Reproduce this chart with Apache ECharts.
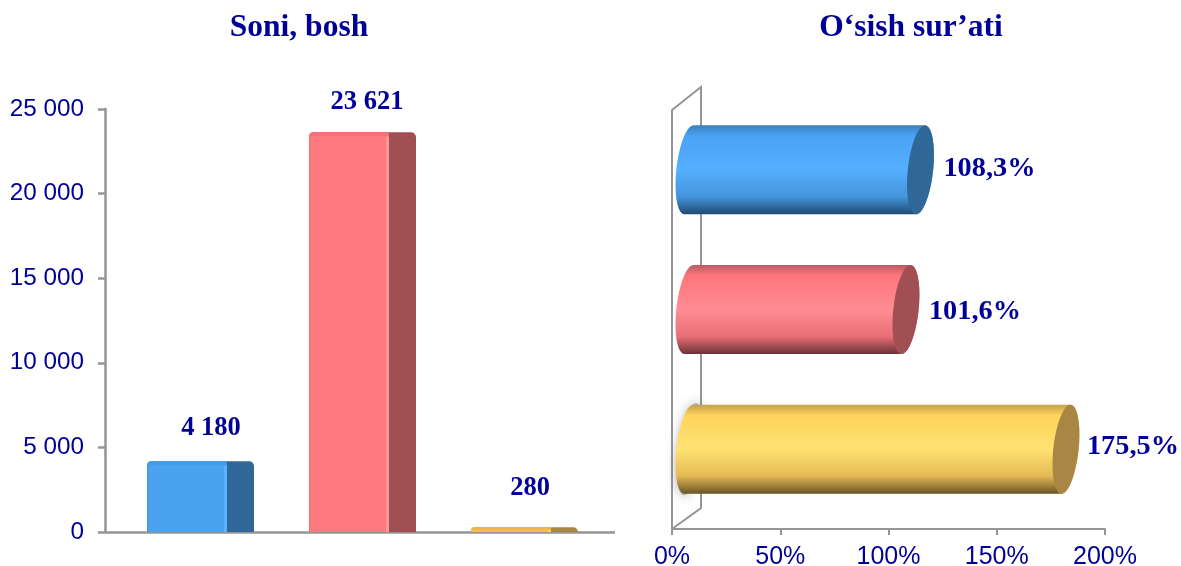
<!DOCTYPE html>
<html>
<head>
<meta charset="utf-8">
<style>html,body{margin:0;padding:0;background:#fff}#c{width:1181px;height:566px}</style>
<script src="https://cdn.jsdelivr.net/npm/echarts@6/dist/echarts.min.js"></script>
</head>
<body>
<div id="c"></div>
<script>
const categories = ['1', '2', '3'];
const headCounts = [4180, 23621, 280];
const growthRates = [108.3, 101.6, 175.5];
const titles = ['Soni, bosh', 'O‘sish sur’ati'];

const NAVY = '#000099';
const GREY = '#959595';
const palettes = [
  {front:'#4ba2ef', edge:'#5ab2ff', top:'#459ae6', side:'#2f6798', stops:['#3a80bd','#4aa3f5','#55aeff','#4595dc','#1f4a70']},
  {front:'#ff7a80', edge:'#ff979c', top:'#f27278', side:'#a14f52', stops:['#b85c62','#ff767d','#ff8c94','#e96f76','#6b3236']},
  {front:'#f9bd4f', edge:'#ffd070', top:'#efb44b', side:'#a98643', stops:['#c2a04c','#ffd35c','#ffe272','#e5b954','#6b5426']}
];
const columnLabelShift = [[25, -33], [19, -30], [20, -39]];
const barLabelShift = [[0, 1], [0, 4], [-2, 0]];

function shearedEllipse(cx, cy, rx, ry, k, from, to) {
  const pts = [];
  const n = 40;
  for (let i = 0; i <= n; i++) {
    const t = from + (to - from) * i / n;
    pts.push([cx + rx * Math.cos(t) - k * Math.sin(t), cy + ry * Math.sin(t)]);
  }
  return pts;
}

function renderColumn(params, api) {
  const i = api.value(0);
  const v = api.value(1);
  const p = api.coord([i, v]);
  const b = api.coord([i, 0]);
  const c = palettes[i];
  const fw = 80, depth = 27, h = b[1] - p[1];
  const x = p[0] - fw / 2 + 1;
  const r = Math.min(5, h);
  const bevel = Math.min(4, h / 2);
  const label = String(v).replace(/\B(?=(\d{3})+$)/g, ' ');
  return {type:'group', children:[
    {type:'rect', shape:{x:x, y:p[1], width:fw + depth, height:h, r:[r, r, 0, 0]}, style:{fill:c.side}},
    {type:'rect', shape:{x:x, y:p[1], width:fw, height:h, r:[r, 0, 0, 0]}, style:{fill:c.front}},
    {type:'rect', shape:{x:x + fw - 3, y:p[1] + bevel, width:3, height:h - bevel}, style:{fill:c.edge}},
    {type:'rect', shape:{x:x, y:p[1], width:fw, height:bevel, r:[r, 0, 0, 0]}, style:{fill:c.top}},
    {type:'rect', shape:{x:x, y:p[1] + r, width:1.5, height:h - r}, style:{fill:c.top}},
    {type:'text', style:{x:p[0] + columnLabelShift[i][0], y:p[1] + columnLabelShift[i][1], text:label, fill:NAVY,
      font:'bold 26.5px "Liberation Serif"', align:'center', verticalAlign:'middle'}}
  ]};
}

function renderCylinder(params, api) {
  const v = api.value(0);
  const i = api.value(1);
  const p = api.coord([v, i]);
  const o = api.coord([0, i]);
  const c = palettes[i];
  const cy = p[1] - 10, ry = 44.5, k = 4.5;
  const ex = p[0] + 14, sx = o[0] + 17;
  const body = shearedEllipse(sx, cy, 12.7, ry, k, Math.PI * 1.5, Math.PI * 0.5)
    .concat(shearedEllipse(ex, cy, 12.7, ry, k, Math.PI * 0.5, -Math.PI * 0.5));
  const grad = new echarts.graphic.LinearGradient(0, 0, 0, 1, [
    {offset:0, color:c.stops[0]}, {offset:0.12, color:c.stops[1]}, {offset:0.5, color:c.stops[2]},
    {offset:0.8, color:c.stops[3]}, {offset:1, color:c.stops[4]}
  ]);
  const children = [];
  if (i === 2) {
    children.push({type:'polygon', shape:{points:shearedEllipse(sx + 1, cy, 12, 46, 6, 0, Math.PI * 2)},
      style:{fill:'rgba(120,120,120,0.5)', shadowBlur:12, shadowColor:'rgba(90,90,90,1)'}});
  }
  children.push(
    {type:'polygon', shape:{points:body}, style:{fill:grad}},
    {type:'polygon', shape:{points:shearedEllipse(ex, cy, 12.7, ry, k, 0, Math.PI * 2)}, style:{fill:c.side}},
    {type:'text', style:{x:ex + 23 + barLabelShift[i][0], y:cy - 2 + barLabelShift[i][1], text:v.toFixed(1).replace('.', ',') + '%', fill:NAVY,
      font:'bold 28.3px "Liberation Serif"', align:'left', verticalAlign:'middle'}}
  );
  return {type:'group', children};
}

function renderFrame(params, api) {
  const g = params.coordSys;
  return {type:'polyline', silent:true,
    shape:{points:[[g.x, g.y], [g.x + 29, g.y - 23], [g.x + 29, g.y + g.height - 21], [g.x, g.y + g.height]]},
    style:{fill:'none', stroke:GREY, lineWidth:2}};
}

function renderFloor(params, api) {
  const g = params.coordSys;
  return {type:'line', silent:true,
    shape:{x1:g.x, y1:g.y + g.height + 0.5, x2:g.x + g.width + 24, y2:g.y + g.height + 0.5},
    style:{stroke:GREY, lineWidth:2.5}};
}

const axisLine = {show:true, lineStyle:{color:GREY, width:2.5}};
const axisLineThin = {show:true, lineStyle:{color:GREY, width:2}};
const axisTick = {show:true, length:6, lineStyle:{color:GREY, width:2}};
const titleStyle = {color:NAVY, fontFamily:'"Liberation Serif"', fontWeight:'bold', fontSize:31.5};

const option = {
  animation:false,
  backgroundColor:'#fff',
  title:[
    {text:titles[0], left:294, top:7, textAlign:'center', textStyle:titleStyle},
    {text:titles[1], left:906, top:7, textAlign:'center', textStyle:titleStyle}
  ],
  grid:[
    {left:105, top:109, width:486, height:423, outerBoundsMode:'none'},
    {left:672, top:110, width:433, height:419, outerBoundsMode:'none'}
  ],
  xAxis:[
    {gridIndex:0, type:'category', data:categories, axisLine:{show:false}, axisTick:{show:false}, axisLabel:{show:false}},
    {gridIndex:1, type:'value', min:0, max:200, interval:50, axisLine:axisLineThin, axisTick, splitLine:{show:false},
      axisLabel:{color:NAVY, fontFamily:'"Liberation Sans"', fontSize:25, formatter:'{value}%', margin:16}}
  ],
  yAxis:[
    {gridIndex:0, type:'value', min:0, max:25000, interval:5000, axisLine, axisTick:{show:true, length:7, lineStyle:{color:GREY, width:2.5}}, splitLine:{show:false},
      axisLabel:{color:NAVY, fontFamily:'"Liberation Sans"', fontSize:24.3, margin:21, padding:[8, 0, 0, 0],
        formatter:v => String(v).replace(/\B(?=(\d{3})+$)/g, ' ')}},
    {gridIndex:1, type:'category', inverse:true, data:categories, axisLine:axisLineThin, axisTick:{show:false}, axisLabel:{show:false}}
  ],
  series:[
    {type:'custom', xAxisIndex:0, yAxisIndex:0, clip:false, z:1, data:[[0]], renderItem:renderFloor, encode:{x:0}},
    {type:'custom', xAxisIndex:0, yAxisIndex:0, clip:false, z:3, encode:{x:0, y:1},
      data:headCounts.map((v, i) => [i, v]), renderItem:renderColumn},
    {type:'custom', xAxisIndex:1, yAxisIndex:1, clip:false, z:1, data:[[0]], renderItem:renderFrame, encode:{x:0}},
    {type:'custom', xAxisIndex:1, yAxisIndex:1, clip:false, z:3, encode:{x:0, y:1},
      data:growthRates.map((v, i) => [v, i]), renderItem:renderCylinder}
  ]
};
echarts.init(document.getElementById('c'), null, {renderer:'canvas'}).setOption(option);
</script>
</body>
</html>
